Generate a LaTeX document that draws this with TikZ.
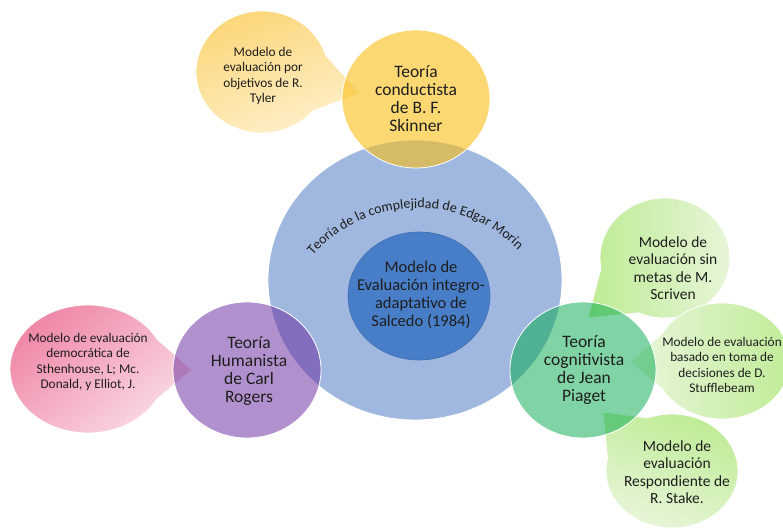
\documentclass[tikz,border=0pt]{standalone}
\usepackage{fontspec}
\setmainfont{Carlito}
\usetikzlibrary{decorations.text}
\definecolor{bigblue}{RGB}{160,184,223}
\definecolor{innerblue}{RGB}{72,126,200}
\definecolor{innerborder}{RGB}{62,110,178}
\definecolor{skinnery}{RGB}{250,190,22}
\definecolor{rogersp}{RGB}{101,37,157}
\definecolor{piagetg}{RGB}{0,169,75}
\definecolor{tylertop}{RGB}{252,214,118}
\definecolor{tylerbot}{RGB}{254,240,206}
\definecolor{pinkdark}{RGB}{239,130,162}
\definecolor{pinklight}{RGB}{250,222,230}
\definecolor{greensat}{RGB}{190,235,148}
\definecolor{greenpale}{RGB}{233,246,220}
\definecolor{txt}{RGB}{30,30,30}
\begin{document}
\begin{tikzpicture}[x=1pt,y=1pt,
  lbl/.style={align=center, text=txt, inner sep=0pt},
  big/.style={lbl, font=\fontsize{17.5}{18}\selectfont},
  small/.style={lbl, font=\fontsize{13.3}{15.3}\selectfont},
  mid/.style={lbl, font=\fontsize{15.5}{17.5}\selectfont},
  shapeline/.style={draw=white, line width=0.8pt}]
\useasboundingbox (0,0) rectangle (783,529);
\fill[white] (0,0) rectangle (783,529);

% central circles
\path[shapeline, fill=bigblue] (415,249) ellipse[x radius=147, y radius=140];
\path[draw=innerborder, line width=0.6pt, fill=innerblue] (419,233) ellipse[x radius=71, y radius=64];

% callout bubbles
\path[shapeline, top color=tylertop, bottom color=tylerbot, shading angle=20]
  (262,457) ++(16:66 and 61) arc[start angle=16, end angle=320, x radius=66, y radius=61] -- (360,436) -- cycle;
\path[shapeline, top color=pinkdark, bottom color=pinklight, shading angle=40]
  (88,160) ++(28:78 and 64) arc[start angle=28, end angle=332, x radius=78, y radius=64] -- (192,159) -- cycle;
\path[shapeline, left color=greensat, right color=greenpale]
  (665,271) ++(246:65 and 60) arc[start angle=246, end angle=550, x radius=65, y radius=60] -- (588,211) -- cycle;
\path[shapeline, left color=greenpale, right color=greensat]
  (722,168) ++(208:68 and 58) arc[start angle=208, end angle=512, x radius=68, y radius=58] -- (630,167) -- cycle;
\path[shapeline, top color=greensat, bottom color=greenpale, shading angle=-20]
  (672,58) ++(167.5:66 and 57) arc[start angle=167.5, end angle=471.5, x radius=66, y radius=57] -- (603,117) -- cycle;

% theory circles (semi-transparent)
\path[shapeline, fill=skinnery, fill opacity=0.6] (416,430) ellipse[x radius=74, y radius=69];
\path[shapeline, fill=rogersp, fill opacity=0.5] (247,159) ellipse[x radius=74, y radius=68];
\path[shapeline, fill=piagetg, fill opacity=0.5] (583,159) ellipse[x radius=73, y radius=68];

% curved title
\coordinate (morin) at (418,181);
\path[decorate, decoration={text along path, text align=center, text color=txt,
  text={|\fontsize{14}{14}\selectfont|Teoría de la complejidad de Edgar Morín}}]
  (morin) ++(151.5:140) arc[start angle=151.5, end angle=31.5, radius=140];

% texts
\node[big] (skinner) at (416,430) {Teoría\\conductista\\de B. F.\\Skinner};
\node[big] (rogers) at (249,158) {Teoría\\Humanista\\de Carl\\Rogers};
\node[big] (piaget) at (584,159) {Teoría\\cognitivista\\de Jean\\Piaget};
\node[lbl, font=\fontsize{16.5}{18}\selectfont] (salcedo) at (421,234) {Modelo de\\Evaluación integro-\\adaptativo de\\Salcedo (1984)};
\node[small] (tyler) at (263,453) {Modelo de\\evaluación por\\objetivos de R.\\Tyler};
\node[small] (stenhouse) at (88,167) {Modelo de evaluación\\democrática de\\Sthenhouse,  L; Mc.\\Donald, y Elliot, J.};
\node[mid] (scriven) at (673,261) {Modelo de\\evaluación sin\\metas de M.\\Scriven};
\node[small] (stuffle) at (722,164) {Modelo de evaluación\\basado en toma de\\decisiones de D.\\Stufflebeam};
\node[mid] (stake) at (677,57) {Modelo de\\evaluación\\Respondiente de\\R. Stake.};
\end{tikzpicture}
\end{document}
